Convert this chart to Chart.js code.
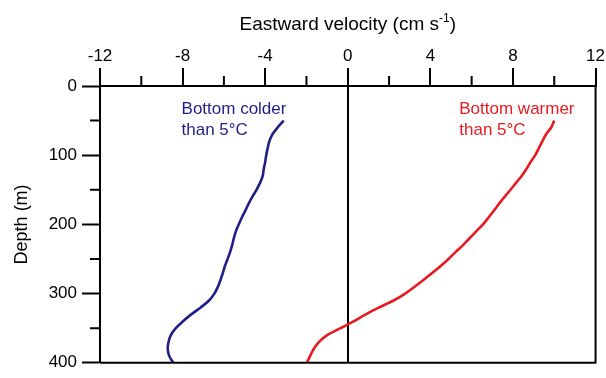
<!DOCTYPE html>
<html>
<head>
<meta charset="utf-8">
<script src="https://cdn.jsdelivr.net/npm/chart.js@4.4.1/dist/chart.umd.min.js"></script>
<style>
html, body { margin: 0; padding: 0; background: #fff; }
#wrap { width: 606px; height: 378px; }
</style>
</head>
<body>
<div id="wrap"><canvas id="velChart" width="606" height="378"></canvas></div>
<script>
// depth of each profile sample (m)
const depth_ar = [50, 60, 70, 80, 90, 100, 110, 120, 130, 140, 150, 160, 170, 180, 190, 200, 210, 220,
    230, 240, 250, 260, 270, 280, 290, 300, 310, 320, 330, 340, 350, 360, 370, 380, 390, 400]

// eastward velocity (cm/s), bottom colder than 5°C
const colder_ar = [-3.1, -3.4, -3.65, -3.8, -3.88, -3.95, -4.0, -4.07, -4.12, -4.25, -4.42, -4.62, -4.8, -4.96,
    -5.13, -5.28, -5.42, -5.52, -5.6, -5.7, -5.82, -5.95, -6.05, -6.16, -6.29, -6.46, -6.72, -7.12, -7.58, -7.98,
    -8.33, -8.57, -8.68, -8.72, -8.65, -8.45]

// eastward velocity (cm/s), bottom warmer than 5°C
const warmer_ar = [10.0, 9.85, 9.6, 9.42, 9.25, 9.08, 8.85, 8.65, 8.42, 8.15, 7.88, 7.6, 7.33, 7.08, 6.82, 6.55,
    6.22, 5.9, 5.58, 5.22, 4.88, 4.5, 4.1, 3.68, 3.24, 2.78, 2.22, 1.52, 0.87, 0.28, -0.35, -1.0, -1.4, -1.65,
    -1.82, -1.98]

// labelled ticks
const xLabels = [-12, -8, -4, 0, 4, 8, 12]
const yLabels = [0, 100, 200, 300, 400]

const FONT = '"Liberation Sans", Arial, sans-serif'
const BLUE = '#1f1f86'
const RED = '#e61b22'

Chart.defaults.font.family = FONT
Chart.defaults.color = '#000'

const toPts = (vals) => vals.map((v, i) => ({ x: v, y: depth_ar[i] }))

//minor ticks, box, top title and curve notes
const profileExtras = {
    id: 'profileExtras',
    afterDraw(chart) {
        const ctx = chart.ctx
        const { left, right, top, bottom } = chart.chartArea
        const sx = chart.scales.x
        const sy = chart.scales.y
        ctx.save()
        ctx.strokeStyle = '#000'
        ctx.lineWidth = 2

        // right + bottom of the box
        ctx.beginPath()
        ctx.moveTo(right, top - 1)
        ctx.lineTo(right, bottom)
        ctx.lineTo(left, bottom)
        ctx.stroke()

        // minor ticks
        ctx.beginPath()
        sx.ticks.forEach(t => {
            if (xLabels.includes(t.value)) return
            const px = sx.getPixelForValue(t.value)
            ctx.moveTo(px, top)
            ctx.lineTo(px, top - 10)
        })
        sy.ticks.forEach(t => {
            if (yLabels.includes(t.value)) return
            const py = sy.getPixelForValue(t.value)
            ctx.moveTo(left, py)
            ctx.lineTo(left - 10, py)
        })
        ctx.stroke()

        // axis title with superscript
        const t1 = 'Eastward velocity (cm s'
        const sup = '-1'
        const t3 = ')'
        ctx.fillStyle = '#000'
        ctx.textBaseline = 'alphabetic'
        ctx.font = '19px ' + FONT
        const w1 = ctx.measureText(t1).width
        const w3 = ctx.measureText(t3).width
        ctx.font = '12px ' + FONT
        const w2 = ctx.measureText(sup).width
        let x0 = (left + right) / 2 - (w1 + w2 + w3) / 2
        const base = top - 56
        ctx.font = '19px ' + FONT
        ctx.fillText(t1, x0, base)
        ctx.font = '12px ' + FONT
        ctx.fillText(sup, x0 + w1, base - 8)
        ctx.font = '19px ' + FONT
        ctx.fillText(t3, x0 + w1 + w2, base)

        // notes beside the curves
        ctx.font = '17px ' + FONT
        const notes = [
            { lines: ['Bottom colder', 'than 5°C'], x: -8.05, d: 40, color: BLUE },
            { lines: ['Bottom warmer', 'than 5°C'], x: 5.4, d: 40, color: RED }
        ]
        notes.forEach(n => {
            ctx.fillStyle = n.color
            const nx = sx.getPixelForValue(n.x)
            const ny = sy.getPixelForValue(n.d)
            n.lines.forEach((ln, i) => ctx.fillText(ln, nx, ny + i * 21))
        })
        ctx.restore()
    }
}

const ctx2 = document.getElementById('velChart').getContext('2d')
const velChart = new Chart(ctx2, {
    type: 'scatter',
    data: {
        datasets: [{
            label: 'Bottom colder than 5°C',
            data: toPts(colder_ar),
            showLine: true,
            borderColor: BLUE,
            borderWidth: 2.6,
            pointRadius: 0,
            tension: 0.35
        }, {
            label: 'Bottom warmer than 5°C',
            data: toPts(warmer_ar),
            showLine: true,
            borderColor: RED,
            borderWidth: 2.6,
            pointRadius: 0,
            tension: 0.35
        }]
    },
    options: {
        responsive: false,
        animation: false,
        devicePixelRatio: 1,
        layout: { padding: { left: 0, right: 7, top: 0, bottom: 9 } },
        plugins: {
            legend: { display: false },
            tooltip: { enabled: false }
        },
        scales: {
            x: {
                type: 'linear',
                position: 'top',
                min: -12,
                max: 12,
                afterFit: (s) => { s.height = 86 },
                ticks: {
                    stepSize: 2,
                    autoSkip: false,
                    maxRotation: 0,
                    padding: 1,
                    font: { size: 17 },
                    color: '#000',
                    callback: (v) => xLabels.includes(v) ? String(v) : ''
                },
                grid: {
                    drawOnChartArea: true,
                    drawTicks: true,
                    tickLength: 18,
                    lineWidth: 2,
                    tickWidth: 2,
                    color: (c) => c.tick && c.tick.value === 0 ? '#000' : 'rgba(0,0,0,0)',
                    tickColor: (c) => c.tick && xLabels.includes(c.tick.value) ? '#000' : 'rgba(0,0,0,0)'
                },
                border: { display: true, color: '#000', width: 2 }
            },
            y: {
                type: 'linear',
                position: 'left',
                reverse: true,
                min: 0,
                max: 400,
                afterFit: (s) => { s.width = 100 },
                ticks: {
                    stepSize: 50,
                    autoSkip: false,
                    padding: 5,
                    font: { size: 17 },
                    color: '#000',
                    callback: (v) => yLabels.includes(v) ? String(v) : ''
                },
                grid: {
                    drawOnChartArea: false,
                    drawTicks: true,
                    tickLength: 18,
                    tickWidth: 2,
                    tickColor: (c) => c.tick && yLabels.includes(c.tick.value) ? '#000' : 'rgba(0,0,0,0)'
                },
                border: { display: true, color: '#000', width: 2 },
                title: {
                    display: true,
                    text: 'Depth (m)',
                    font: { size: 18 },
                    color: '#000',
                    padding: { top: 11, bottom: 0 }
                }
            }
        }
    },
    plugins: [profileExtras]
})
</script>
</body>
</html>
